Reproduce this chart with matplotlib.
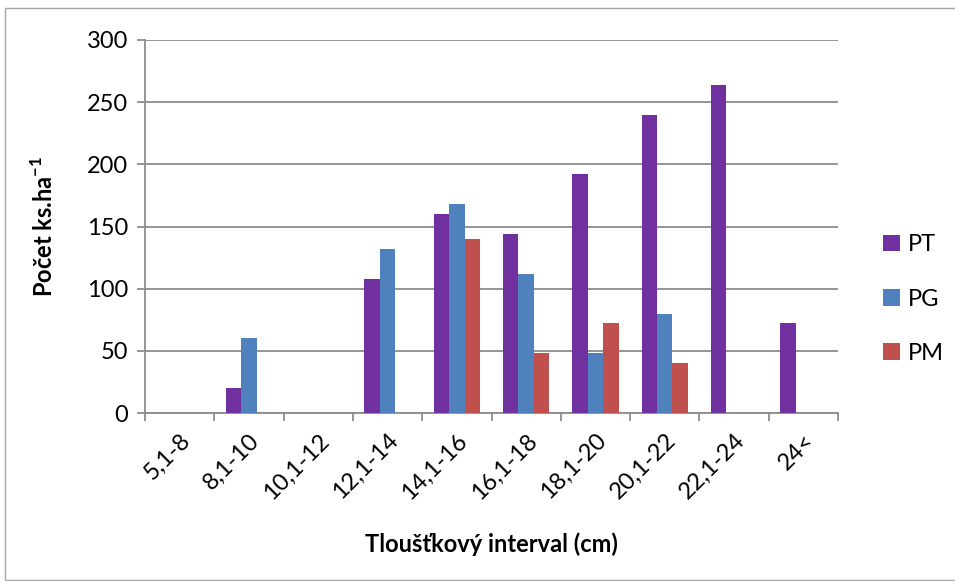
import matplotlib
matplotlib.use("Agg")
import matplotlib.pyplot as plt
import numpy as np
from matplotlib.patches import Rectangle

plt.rcParams["font.family"] = ["Lato", "DejaVu Sans"]
plt.rcParams["mathtext.fontset"] = "custom"
plt.rcParams["mathtext.rm"] = "Lato"
plt.rcParams["mathtext.bf"] = "Lato:bold"

categories = ["5,1-8", "8,1-10", "10,1-12", "12,1-14", "14,1-16",
              "16,1-18", "18,1-20", "20,1-22", "22,1-24", "24<"]
pt = [0, 20, 0, 108, 160, 144, 192, 240, 264, 72]
pg = [0, 60, 0, 132, 168, 112, 48, 80, 0, 0]
pm = [0, 0, 0, 0, 140, 48, 72, 40, 0, 0]
series = [("PT", pt, "#7030A0"), ("PG", pg, "#4F81BD"), ("PM", pm, "#C0504D")]

grid_col = "#8c8c8c"
fs = 17

fig = plt.figure(figsize=(9.55, 5.81), dpi=100)
ax = fig.add_axes([145 / 955, 1 - 413 / 581, 693 / 955, 373 / 581])

# chart area border
fig.patches.append(Rectangle((5 / 955, 1 / 581), 960 / 955, 572 / 581,
                             transform=fig.transFigure, fill=False,
                             edgecolor="#a6a6a6", lw=1.0))

x = np.arange(len(categories))
w = 1 / 4.5
for i, (name, vals, col) in enumerate(series):
    ax.bar(x + (i - 1) * w, vals, width=w, color=col, label=name, zorder=3)

ax.set_xlim(-0.5, len(categories) - 0.5)
ax.set_ylim(0, 300)
ax.set_yticks(np.arange(0, 301, 50))
ax.yaxis.grid(True, color=grid_col, lw=1.3, zorder=0)
ax.set_axisbelow(True)

ax.set_xticks(np.arange(-0.5, len(categories)), labels=[])
ax.set_xticks(x, labels=categories, minor=True)
ax.tick_params(axis="x", which="major", length=6, color=grid_col, width=1.3)
ax.tick_params(axis="x", which="minor", length=0, pad=12, labelsize=fs)
for lbl in ax.get_xticklabels(minor=True):
    lbl.set_rotation(45)
    lbl.set_ha("right")
    lbl.set_va("top")
    lbl.set_rotation_mode("anchor")
ax.tick_params(axis="y", length=6, color=grid_col, width=1.3, labelsize=fs, pad=6)

for s in ["top", "right"]:
    ax.spines[s].set_visible(False)
for s in ["left", "bottom"]:
    ax.spines[s].set_color(grid_col)
    ax.spines[s].set_linewidth(1.3)

ax.set_ylabel(r"Počet ks.ha$^{\mathbf{-1}}$", fontsize=fs, fontweight="bold")
ax.yaxis.set_label_coords(-0.127, 0.5)
ax.set_xlabel("Tloušťkový interval (cm)", fontsize=fs, fontweight="bold")
ax.xaxis.set_label_coords(0.5, -0.32)

fig.legend(loc="center left", bbox_to_anchor=(862 / 955, 1 - 299 / 581),
           frameon=False, fontsize=fs, handlelength=0.7, handleheight=0.7,
           labelspacing=1.4, handletextpad=0.35)

fig.savefig("out.png", dpi=100)
plt.close(fig)
